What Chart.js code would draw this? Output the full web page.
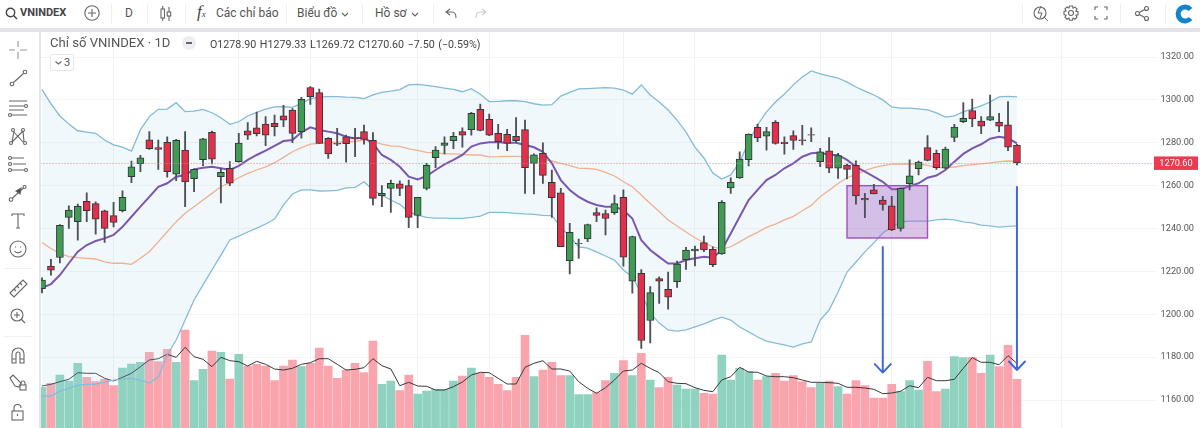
<!DOCTYPE html>
<html lang="vi"><head><meta charset="utf-8"><title>VNINDEX</title>
<script src="https://cdn.jsdelivr.net/npm/chart.js@4/dist/chart.umd.min.js"></script>
<style>
html,body{margin:0;padding:0;background:#fff;overflow:hidden;width:1200px;height:428px;font-family:Roboto,"Noto Sans",sans-serif;color:#555}
#wrap{position:relative;width:1200px;height:428px;overflow:hidden}
canvas{position:absolute;left:0;top:0}
.abs{position:absolute;white-space:nowrap}
#top{position:absolute;left:0;top:0;width:1200px;height:28px;background:#fff;border-bottom:4px solid #e3e5ea;z-index:3}
#left{position:absolute;left:0;top:32px;width:39px;height:396px;background:#fff;border-right:2px solid #e3e5ea;z-index:3}
.sep{position:absolute;width:1px;background:#eef0f3}
svg{position:absolute;overflow:visible;fill:none;stroke:#666;stroke-width:1.1}
</style></head><body><div id="wrap">
<canvas id="c" width="1200" height="428"></canvas>
<div id="top">
<svg style="left:5px;top:7px" width="14" height="14"><circle cx="5.5" cy="5.5" r="4.2" stroke="#444" stroke-width="1.4"/><path d="M8.6 8.6L12 12" stroke="#444" stroke-width="1.4"/></svg>
<div class="abs" style="left:20px;top:6px;font:700 11px Roboto;color:#444">VNINDEX</div>
<svg style="left:84px;top:5px" width="16" height="16"><circle cx="8" cy="8" r="7.2"/><path d="M8 4v8M4 8h8"/></svg>
<div class="sep" style="left:111px;top:4px;height:20px"></div>
<div class="abs" style="left:125px;top:6px;font:12px Roboto">D</div>
<div class="sep" style="left:147px;top:4px;height:20px"></div>
<svg style="left:160px;top:5px" width="12" height="18"><rect x="1" y="4" width="3.5" height="9"/><path d="M2.7 1v3M2.7 13v3M9 2v5M9 11v5"/><rect x="7.2" y="7" width="3.5" height="4"/></svg>
<div class="sep" style="left:185px;top:4px;height:20px"></div>
<div class="abs" style="left:197px;top:2px;font:italic 17px 'Liberation Serif';color:#444">f<span style="font-size:9px">x</span></div>
<div class="abs" style="left:216px;top:6px;font:12px Roboto">Các chỉ báo</div>
<div class="sep" style="left:286px;top:4px;height:20px"></div>
<div class="abs" style="left:297px;top:6px;font:12px Roboto">Biểu đồ</div>
<svg style="left:341px;top:12px" width="8" height="5"><path d="M1 1l3 3 3-3"/></svg>
<div class="sep" style="left:362px;top:4px;height:20px"></div>
<div class="abs" style="left:375px;top:6px;font:12px Roboto">Hồ sơ</div>
<svg style="left:411px;top:12px" width="8" height="5"><path d="M1 1l3 3 3-3"/></svg>
<div class="sep" style="left:433px;top:4px;height:20px"></div>
<svg style="left:445px;top:8px" width="12" height="11"><path d="M5 1L1 4l4 3M1 4h6c3 0 4 2 4 6"/></svg>
<svg style="left:475px;top:8px" width="12" height="11"><path d="M7 1l4 3-4 3M11 4H5C2 4 1 6 1 10" stroke="#ccc"/></svg>
<div class="sep" style="left:1022px;top:4px;height:20px"></div>
<svg style="left:1033px;top:5px" width="16" height="18"><circle cx="7" cy="8" r="6"/><path d="M11 12l4 4M8 1L5 8h4l-2 5" stroke-width="1"/></svg>
<svg style="left:1063px;top:5px" width="16" height="16"><circle cx="8" cy="8" r="2.5"/><path d="M6.5 1h3l.5 2.2 2-1.1 2 2-1.1 2 2.1.6v3l-2.1.5 1.1 2-2 2-2-1.1-.5 2.1h-3L6 13.1l-2 1.1-2-2 1.1-2L1 9.5v-3l2.1-.6-1.1-2 2-2 2 1.1z"/></svg>
<svg style="left:1094px;top:6px" width="14" height="14"><path d="M1 4V1h3M10 1h3v3M13 10v3h-3M4 13H1v-3"/></svg>
<div class="sep" style="left:1120px;top:4px;height:20px"></div>
<svg style="left:1135px;top:6px" width="14" height="15"><circle cx="2.5" cy="7.5" r="2"/><circle cx="11.5" cy="2.5" r="2"/><circle cx="11.5" cy="12.5" r="2"/><path d="M4.3 6.5l5.4-3M4.3 8.5l5.4 3"/></svg>
<div class="sep" style="left:1165px;top:4px;height:20px"></div>
<svg style="left:1176px;top:5px" width="18" height="18"><path d="M14.5 4.5A7 7 0 1 0 14.5 13.5" stroke="#1583c9" stroke-width="5"/></svg>
</div>
<div id="left">
<svg style="left:9px;top:9px" width="18" height="18"><path d="M9 0v6M9 11v7M0 9h6M11 9h7" stroke="#999"/></svg>
<svg style="left:10px;top:38px" width="18" height="16"><circle cx="2" cy="14" r="1.8"/><circle cx="15" cy="2" r="1.8"/><path d="M3.5 12.5l10-9"/></svg>
<svg style="left:8px;top:68px" width="20" height="17"><path d="M1 1h18M1 6h15M1 10h15M3 15h16"/><circle cx="18" cy="6" r="1.5"/><circle cx="2" cy="15" r="1.5"/></svg>
<svg style="left:9px;top:96px" width="20" height="18"><circle cx="4" cy="2" r="1.5"/><circle cx="14" cy="2" r="1.5"/><circle cx="2" cy="15" r="1.5"/><circle cx="16" cy="15" r="1.5"/><path d="M4 3l10 11M14 3L3 14M3 14l2-11M15 14L14 3"/></svg>
<svg style="left:8px;top:124px" width="20" height="17"><path d="M3 2h13M5 8h13M3 14h13"/><circle cx="2" cy="2" r="1.5"/><circle cx="2" cy="8" r="1.5"/><circle cx="2" cy="14" r="1.5"/><circle cx="18" cy="14" r="1.5"/></svg>
<svg style="left:9px;top:153px" width="18" height="17"><circle cx="2" cy="14.5" r="1.8"/><circle cx="15.5" cy="2" r="1.5"/><path d="M3.5 13l11-10"/><path d="M12 3l-1 6-4-3z" fill="#444"/></svg>
<svg style="left:11px;top:181px" width="14" height="16"><path d="M1 3V1h12v2M7 1v14M5 15h4"/></svg>
<svg style="left:9px;top:208px" width="18" height="18"><circle cx="9" cy="9" r="8"/><path d="M5.5 11c1.5 2.500 5.500 2.500 7 0"/><path d="M6.500 6.500v1M11.500 6.500v1"/></svg>
<div class="sep" style="left:4px;top:236px;height:1px;width:28px"></div>
<svg style="left:9px;top:247px" width="19" height="19"><path d="M1 14L14 1l4 4L5 18z"/><path d="M5 10l2 2M8 7l2 2M11 4l2 2"/></svg>
<svg style="left:10px;top:276px" width="16" height="17"><circle cx="7" cy="7" r="6"/><path d="M11 11l4 4M7 4v6M4 7h6"/></svg>
<div class="sep" style="left:4px;top:304px;height:1px;width:28px"></div>
<svg style="left:11px;top:315px" width="14" height="17"><path d="M1 16V7a6 6 0 0 1 12 0v9H9V7a2 2 0 0 0-4 0v9zM1 12h4M9 12h4"/></svg>
<svg style="left:9px;top:342px" width="18" height="18"><path d="M1 4l3-3 8 8-2 4-4-1z"/><rect x="11" y="11" width="6" height="5"/><path d="M12 11V9a2 2 0 0 1 4 0v2"/></svg>
<svg style="left:11px;top:372px" width="14" height="18"><rect x="1" y="7" width="11" height="9"/><path d="M3 7V4a3.500 3.500 0 0 1 7 0"/><path d="M6.500 10v2"/></svg>
</div>
<div class="abs" style="left:50px;top:35px;font:13.1px Roboto;color:#555;z-index:2">Chỉ số VNINDEX · 1D</div>
<div class="abs" style="left:182px;top:36px;width:14px;height:14px;border-radius:7px;background:#eceef1;z-index:2"><div style="position:absolute;left:4px;top:6px;width:6px;height:2px;background:#666"></div></div>
<div class="abs" style="left:210px;top:38px;font:10.7px Roboto;color:#444;z-index:2;word-spacing:1px">O1278.90 H1279.33 L1269.72 C1270.60 −7.50 (−0.59%)</div>
<div class="abs" style="left:50px;top:54px;width:22px;height:15px;border:1px solid #e6e8ec;border-radius:2px;background:#fff;z-index:2;font:11px Roboto;line-height:15px;color:#555;text-align:center"><svg style="left:4px;top:6px" width="7" height="4"><path d="M0.500 .5l3 2.500 3-2.500"/></svg><span style="margin-left:10px">3</span></div>
</div>
<script>
const candleDays = [];
for (let d = 1; d <= 125; d++) candleDays.push(String(d));
const priceTicks = [1320,1300,1280,1260,1240,1220,1200,1180,1160];
const lastPrice = 1270.60;
const gridDays = [8,22,30,42,50,65,73,87,95,106,114];
const opens = [1212,1222.5,1226.5,1245.2,1243.2,1252.7,1251.6,1248.2,1246,1248.3,1264.2,1270.2,1281.4,1277.7,1280.2,1265.4,1276.6,1263.2,1272.1,1284.9,1264.2,1268.1,1271.2,1285.6,1287,1288.7,1289.1,1292.6,1295.3,1285.2,1305.8,1303.4,1282.1,1279.7,1282.8,1282.4,1285.2,1281.1,1255.3,1258.7,1260.8,1260,1246.1,1258.7,1273,1278.8,1281,1285.2,1286.1,1295.6,1290.9,1284.4,1283.9,1283,1286.1,1270.4,1275.1,1261.5,1256.6,1225,1232.9,1235.2,1247.5,1247,1247.4,1254.5,1215.5,1219.1,1197.1,1216.7,1211.6,1215.2,1225.5,1229.6,1233.4,1230.3,1228.2,1259,1263.6,1272.1,1287.2,1283.1,1289.5,1280.3,1283.3,1281.4,1283.8,1271.2,1276.3,1268.1,1269.6,1269.5,1254.1,1258.1,1253.3,1250.6,1240.1,1260.9,1267.9,1277.7,1275.1,1268.1,1282.5,1289.8,1295,1290.1,1290.6,1289.5,1288.4,1278.9];
const closes = [1216,1220.6,1241.5,1248.6,1250.3,1248.3,1244.4,1240.1,1242.9,1254.5,1268.8,1273,1277.2,1276.9,1266.5,1281.1,1261.8,1267.6,1281.8,1272.4,1266.2,1261.2,1279.9,1283.5,1284.2,1283.5,1287.5,1290.5,1284.4,1300.3,1301.5,1279.7,1274.8,1279.4,1279.6,1281.9,1281.6,1254.1,1256.4,1261.1,1258.7,1245.2,1254.5,1269.5,1276.6,1280,1283,1283.6,1293.7,1285.8,1283.6,1280.5,1279.7,1281,1268.4,1274.4,1264.8,1254.4,1231.5,1238.2,1233.1,1241.9,1246.1,1244.7,1251.6,1226.7,1236.3,1187.8,1210.1,1215.5,1208,1223.4,1230,1230.4,1230,1223.1,1252.2,1261.5,1272.4,1283.9,1282.4,1285.2,1279.7,1279.6,1281.1,1281,1283.6,1275.8,1268.1,1274,1267.6,1255.2,1253.3,1256.2,1251.3,1239.3,1258.7,1264.6,1271,1271.8,1268.4,1277.1,1287.3,1291.4,1291.1,1287.8,1292.2,1287.7,1278,1270.6];
const highs = [1217,1225.6,1241.9,1250.6,1251.4,1256.7,1252.5,1248.6,1252.2,1257.6,1271.5,1274.1,1285.2,1281.3,1282.8,1281.6,1285.2,1267.8,1282.1,1285.5,1268.1,1271.2,1284.4,1289.4,1294.3,1292.2,1292.9,1297.5,1296,1301.2,1306.2,1305,1282.4,1286.7,1283.6,1286.7,1288.3,1284.7,1260,1262.6,1262.3,1262.6,1254.5,1270.4,1278.2,1282.8,1284.9,1287,1294.2,1298.1,1293.4,1288.6,1286.3,1291.7,1290.6,1274.8,1280,1267.3,1258.7,1242.4,1235.1,1242.1,1249.7,1248.6,1255.6,1258,1236.5,1220.9,1212.9,1217.5,1219.7,1224.8,1231.2,1231.8,1236.5,1231.5,1253,1263.7,1275.8,1284.2,1288.7,1287.2,1290.3,1282.8,1285.6,1288.1,1287,1277.4,1282.4,1275.1,1270.1,1271.6,1256.4,1260.6,1255,1255,1259,1272,1271.5,1283.3,1276.6,1278,1288.6,1298.7,1300.4,1292.2,1302.3,1293.7,1299.2,1279.33];
const lows = [1210,1218.3,1224,1240.1,1234.6,1243.2,1237.4,1233.5,1240.8,1247.8,1261.4,1266.5,1276.9,1267.6,1263.9,1262.3,1250.2,1257.2,1269.3,1270.1,1252,1260,1270.9,1281.6,1283.2,1278.6,1283.2,1287.5,1280,1282.1,1297.9,1279.7,1272.7,1278.6,1270.9,1273.5,1279.4,1251,1250.2,1247.5,1255.3,1240.4,1240.4,1258,1268.4,1274.8,1277.2,1277.9,1283.6,1285.5,1283.3,1277.1,1276.3,1280.2,1256.4,1256.1,1261.1,1245.2,1231.5,1218.8,1226.1,1233.9,1243.2,1237,1246.6,1222.5,1209.8,1184.1,1186.7,1205.1,1202.4,1212.5,1220.9,1222.6,1229.2,1222.2,1227.9,1256.4,1263.4,1269.2,1280.5,1276.6,1279.4,1274.7,1276.9,1279,1280.5,1268.8,1266,1263.4,1263.1,1251.4,1245.1,1256.2,1248.6,1239,1238.8,1258,1265,1271.5,1267.6,1267.8,1280.5,1289.4,1287.5,1284.2,1290.3,1285.2,1276.3,1269.72];
const bandUpper = [1304.9,1298.1,1292.5,1288.7,1285.6,1285,1284.4,1281.3,1279,1278,1276.1,1286,1292.2,1295.6,1295.7,1298.7,1294.5,1294.8,1295.6,1294,1291.7,1288.6,1289.8,1292.5,1294.2,1295.7,1296.7,1296.8,1296.5,1298.4,1300.6,1301.3,1301.5,1301.5,1301.3,1301.2,1300.6,1302.3,1303.5,1304.1,1304.8,1307,1307.2,1306.8,1306.2,1305.5,1304.9,1303.8,1305.2,1302.6,1299.2,1299.3,1299.6,1299.6,1299.2,1298.2,1297.6,1297.8,1301.8,1303.5,1305.1,1305.3,1305.5,1305.7,1305.5,1304.6,1302.7,1307,1302.3,1299,1295.3,1290.6,1285,1278,1272.9,1265.9,1263.1,1265,1271,1280.4,1288.3,1294.4,1299,1302.7,1307,1310.7,1313.5,1312.1,1311.1,1310.2,1308.3,1306,1304.1,1302.3,1300,1296.7,1296.2,1296.2,1295.8,1295.3,1293.9,1292,1292.5,1294.4,1295.8,1297.2,1299,1301.4,1301.6,1301.4];
const bandLower = [1161.9,1161.9,1164.2,1165.6,1167,1167.3,1167.5,1168.4,1169.3,1169.8,1170.1,1169.3,1167.9,1170.8,1181,1188,1197.3,1206.7,1213.7,1220.7,1227.6,1234.7,1236.5,1238.4,1240.2,1242.1,1244.4,1251,1256.1,1258,1258,1257.5,1257.6,1257.8,1259,1259.2,1261.8,1258,1255.6,1253.3,1251.3,1247.8,1246.3,1245.2,1244.9,1244.9,1244.7,1244.7,1245.2,1245.8,1247.5,1247.5,1247.4,1247.1,1246.8,1246.6,1246.1,1246,1240.8,1236.2,1231.4,1230.9,1229.1,1227.2,1225.3,1220.7,1217.4,1209.9,1200.6,1195.9,1192.7,1192.2,1192.7,1194.1,1195.5,1197.3,1198.7,1197.3,1194.1,1191.8,1189.4,1187.5,1186.6,1185.7,1184.7,1186.2,1187.1,1197.3,1202,1210.4,1219.7,1224.4,1229.1,1233.3,1237.9,1240.7,1243.1,1243.5,1243.5,1243.5,1244,1244.4,1244,1243.1,1242.6,1241.6,1241.2,1240.7,1241,1241.2];
const bandBasis = [1233.5,1230.7,1228.4,1226.9,1226.4,1226.1,1225.8,1224.5,1223.8,1223.8,1223.3,1226.1,1229.2,1233.8,1238.5,1243.2,1247.1,1250.2,1253.3,1256.4,1259.5,1261.4,1263.7,1265.7,1267.3,1268.8,1270.7,1273.2,1275.8,1277.7,1279.4,1279.7,1280,1280.3,1280.3,1280.7,1281.3,1280.7,1279.4,1278.6,1278.3,1277.2,1276.5,1275.5,1275.4,1274.8,1274.8,1274.6,1274.3,1274.3,1273.4,1273.5,1273.7,1273.7,1273.4,1273,1272.4,1271.5,1270.4,1269.3,1268.2,1268,1267.6,1266.2,1264.5,1261.8,1259.5,1255.6,1251.7,1247.9,1244,1241.2,1238.4,1235.7,1233.5,1231.5,1230.4,1231.5,1233.8,1236.2,1238.2,1240.5,1242.1,1244,1245.7,1248.3,1250.8,1254.8,1257.9,1261,1263.7,1265.3,1267,1268.4,1269.3,1270,1270.1,1270.1,1270.1,1269.5,1268.5,1268.4,1268.7,1269.3,1269.8,1270.2,1270.6,1271.2,1271.5,1271.3];
const maLine = [1212.3,1214.1,1218.3,1223.8,1229.2,1232.3,1234.2,1235.4,1237,1240.8,1245.5,1250.2,1254.8,1259.5,1261.1,1264.2,1265,1267.6,1268.4,1268.8,1268.1,1267.3,1269.2,1272,1274.3,1276.3,1278.6,1280.8,1281.3,1284.9,1287.2,1286,1285.2,1284.4,1282.8,1282,1282.4,1279.7,1274.3,1272,1268.8,1264.2,1262.9,1264.5,1267.3,1269.9,1272,1274.3,1278.2,1279.7,1280.2,1280.2,1280,1280,1279,1277.9,1275.8,1270.4,1262.6,1258,1254.8,1252.5,1251,1250.2,1250.2,1248.6,1244.7,1234.6,1230,1226.8,1223.7,1223.7,1225.3,1226.1,1226.8,1226.4,1230,1237.7,1245.5,1253.3,1258,1262.6,1265,1268.1,1270.4,1273.5,1275.1,1275.5,1274.3,1274.3,1272,1268.8,1266.5,1264.2,1261.8,1258.3,1258.3,1259.8,1261.1,1263.7,1264.7,1267.3,1271.2,1274.8,1277.4,1279.3,1281.9,1282.8,1282.1,1279.7];
const volumes = [40.7,44.7,53,47,64.7,50.7,46.3,48.7,42.3,60,64,65.7,75.7,66.3,78.7,65.7,98,47.3,58.7,77,75.7,49,73.7,62,63.7,62,47.3,62,68,61.3,64.7,80,62,49.7,58,64.7,55.3,87,43.7,47,37.3,53,34,37,38.7,38.7,47,52,60,54.7,50.7,43.7,37.3,50.7,92.7,51.3,58,65.7,52.3,52.3,33.3,33.3,35.3,47.3,54.7,67.3,52.3,74.7,48,40.3,50.7,43,39,39,34.7,34,73,48,59.7,56.3,48,51.3,54.7,47,52.3,46.3,40.3,44.7,47,41.3,34,47.3,42.3,30,30,43.7,36.3,47.3,38,66.7,36.3,39,71.3,70.3,70.7,54.7,73,61.3,82.7,48.7];
const volumeMa = [42,43.7,46.3,48.7,55.3,54.7,54.7,49.7,47,50.7,54.7,61.3,68,69.3,73.7,70.7,80.7,71.3,68.7,61.3,70.7,67.3,66.3,62,66.7,63.7,59,58,59.7,63.7,65.3,69.3,69.3,63.7,58,58.7,60.3,69.3,62.3,59,42.3,45.7,42,41.7,38,38,41.3,46,53,55.7,55.3,49.7,44,44,60.7,64.7,67.3,59,59,57,46.3,39.7,34.7,40.3,48,57,58,64.7,59.7,55.3,46.3,44.7,44.3,40.3,37.7,36.3,48,51.3,60.7,56,55.7,52,51.3,51.3,50.3,48,45.7,45.7,45.3,44.7,40.7,40.7,40,38.7,34.3,35,36.7,42.3,40.3,50.7,47.3,47.3,48.7,59.7,70.3,65.7,65.7,63.3,72.3,64.7];
const boxDays = [90,99];
const boxPrices = [1260,1235.6];
const arrowDays = [94,109];
const arrowTops = [1231.4,1259.4];
const arrowTips = [1172.8,1174];

const UP='#3f9c52', DOWN='#e3304a', EDGE='#33363b';
const isUp = opens.map((o,i)=>closes[i]>=o);
const annotations = {
  id:'annotations',
  beforeDatasetDraw(chart,args){
    if(args.index!==6) return;
    const {ctx,scales:{x,y}}=chart;
    const x0=x.getPixelForValue(boxDays[0]),x1=x.getPixelForValue(boxDays[1]);
    const y0=y.getPixelForValue(boxPrices[0]),y1=y.getPixelForValue(boxPrices[1]);
    ctx.save();ctx.fillStyle='rgba(160,90,190,.36)';ctx.strokeStyle='#a34fba';ctx.lineWidth=1.4;
    ctx.fillRect(x0,y0,x1-x0,y1-y0);ctx.strokeRect(x0,y0,x1-x0,y1-y0);ctx.restore();
  },
  afterDatasetsDraw(chart){
    const {ctx,chartArea,scales:{x,y}}=chart;
    ctx.save();
    const ly=y.getPixelForValue(lastPrice);
    ctx.strokeStyle='#e0808c';ctx.lineWidth=1;ctx.setLineDash([1,2]);
    ctx.beginPath();ctx.moveTo(chartArea.left,ly+.5);ctx.lineTo(1154,ly+.5);ctx.stroke();ctx.setLineDash([]);
    ctx.fillStyle='#ee3a50';ctx.fillRect(1154,ly-6.5,44,13.500);
    ctx.fillStyle='#fff';ctx.font='9.2px Roboto';ctx.textAlign='center';ctx.textBaseline='middle';
    ctx.fillText(lastPrice.toFixed(2),1176,ly+.5);
    ctx.strokeStyle='#4169d8';ctx.lineWidth=2;ctx.lineCap='round';ctx.lineJoin='round';
    arrowDays.forEach((d,k)=>{
      const ax=x.getPixelForValue(d),t=y.getPixelForValue(arrowTops[k]),b=y.getPixelForValue(arrowTips[k]);
      ctx.beginPath();ctx.moveTo(ax,t);ctx.lineTo(ax,b);ctx.moveTo(ax-8,b-8.500);ctx.lineTo(ax,b);ctx.lineTo(ax+8,b-8.500);ctx.stroke();
    });
    ctx.restore();
  }
};
const line=(data,color,width,order,extra)=>Object.assign({type:'line',data,borderColor:color,borderWidth:width,pointRadius:0,tension:0,fill:false,yAxisID:'y',order},extra||{});
new Chart(document.getElementById('c'),{
  type:'bar',
  data:{labels:candleDays,datasets:[
    {type:'bar',data:volumes,yAxisID:'v',barThickness:8,grouped:false,backgroundColor:isUp.map(u=>u?'#8fd2c0':'#faa4ae'),order:10},
    {type:'line',data:volumeMa,yAxisID:'v',borderColor:'#3a3a3a',borderWidth:1,pointRadius:0,tension:0,fill:false,order:9},
    line(bandUpper,'#82bad8',1.3,8,{fill:'+1',backgroundColor:'rgba(170,215,240,.17)'}),
    line(bandLower,'#82bad8',1.3,8),
    line(bandBasis,'#f2b08e',1.3,7),
    line(maLine,'#7a57b2',2,6),
    {type:'bar',data:lows.map((l,i)=>[l,highs[i]]),yAxisID:'y',barThickness:1.2,grouped:false,backgroundColor:'#4d5056',order:3},
    {type:'bar',data:opens.map((o,i)=>[o,closes[i]]),yAxisID:'y',barThickness:7,grouped:false,backgroundColor:isUp.map(u=>u?UP:DOWN),borderColor:EDGE,borderWidth:1,borderSkipped:false,order:2}
  ]},
  options:{
    responsive:false,animation:false,
    layout:{autoPadding:false,padding:{left:37.53,top:28,right:0,bottom:0}},
    plugins:{legend:{display:false},tooltip:{enabled:false}},
    scales:{
      x:{type:'category',offset:true,stacked:false,border:{display:false},
        afterFit:s=>{s.height=0;},
        ticks:{display:false,autoSkip:false},
        grid:{offset:false,drawTicks:false,color:c=>gridDays.includes(c.index)?'#f1f2f5':'rgba(0,0,0,0)'}},
      y:{type:'linear',position:'right',min:1146.97,max:1333.53,border:{display:false},
        afterBuildTicks:s=>{s.ticks=priceTicks.map(value=>({value}));},
        afterFit:s=>{s.width=44.4;s.paddingTop=0;s.paddingBottom=0;},
        ticks:{padding:5,color:'#555',font:{family:'Roboto',size:9.2},callback:v=>Number(v).toFixed(2)},
        grid:{drawTicks:false,color:'#f3f4f6'}},
      v:{type:'linear',display:false,min:0,max:400}
    }
  },
  plugins:[annotations]
});
</script>
</body></html>
